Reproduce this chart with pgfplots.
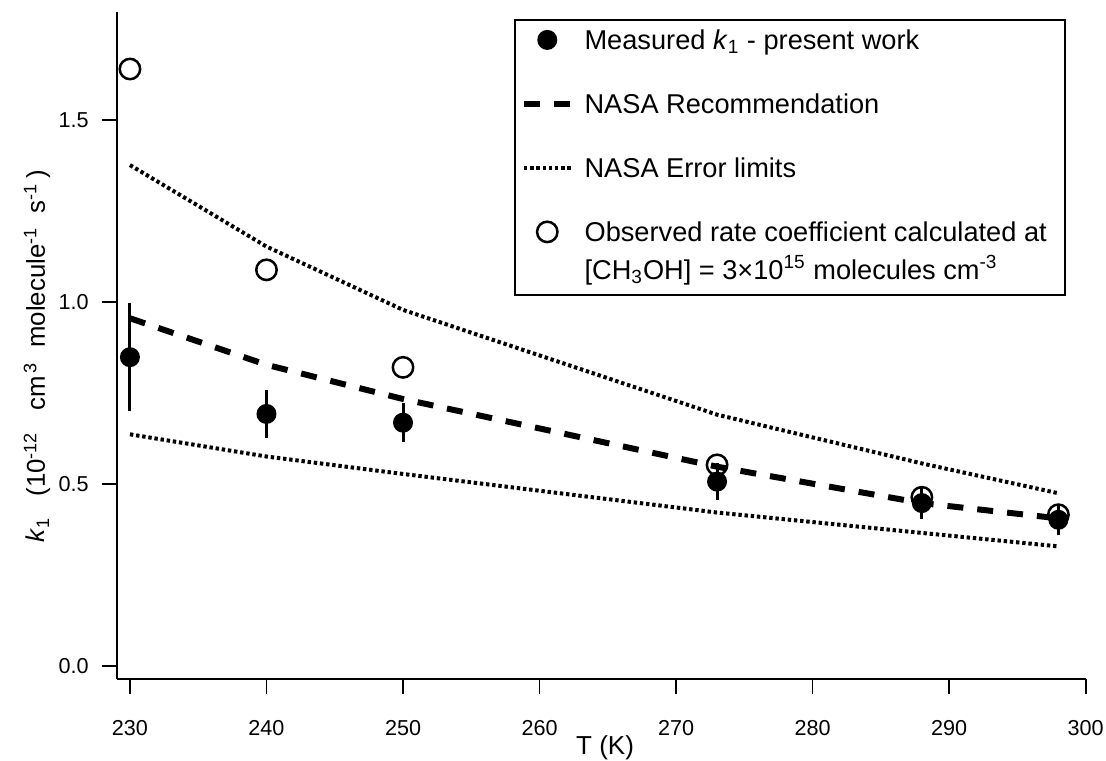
\documentclass[border=0pt]{standalone}
\usepackage{fontspec}
\setmainfont{Liberation Sans}
\usepackage{pgfplots}
\usepackage{pgfplotstable}
\pgfplotsset{compat=1.18}

% measured k1 with 1-sigma error (10^-12 cm3 molecule-1 s-1)
\pgfplotstableread{
T    k      err
230  0.848  0.148
240  0.692  0.065
250  0.668  0.053
273  0.506  0.050
288  0.447  0.044
298  0.401  0.041
}\measured

% observed rate coefficient at [CH3OH] = 3e15 molecules cm-3
\pgfplotstableread{
T    k
230  1.640
240  1.088
250  0.820
273  0.552
288  0.463
298  0.415
}\observed

% NASA recommendation and error limits
\pgfplotstableread{
T    rec    upper  lower
230  0.955  1.376  0.636
240  0.827  1.152  0.575
250  0.733  0.978  0.527
273  0.547  0.690  0.421
288  0.447  0.556  0.365
298  0.405  0.474  0.328
}\nasa

% fixed row height for legend entries: 13pt above, 5pt below the baseline
\newcommand{\lstrut}{\rule[-5pt]{0pt}{18pt}}

\begin{document}
\begin{tikzpicture}
\begin{axis}[
  name=ax,
  scale only axis,
  width=484.5pt, height=333.5pt,
  xmin=229.03, xmax=300,
  ymin=-0.0357, ymax=1.7975,
  axis x line*=bottom, axis y line*=left,
  axis line style={line width=0.8pt, black},
  xtick={230,240,...,300},
  ytick={0,0.5,1,1.5},
  tick align=outside,
  major tick length=7.5pt,
  tick style={line width=0.8pt, black},
  /pgf/number format/assume math mode=true,
  ticklabel style={font=\fontsize{10.8}{12}\selectfont},
  yticklabel style={xshift=-3pt, /pgf/number format/.cd, fixed, fixed zerofill, precision=1},
  xticklabel style={yshift=-10pt, /pgf/number format/.cd, 1000 sep={}},
  xlabel={T (K)},
  ylabel={\textit{k}\textsubscript{1}\ \ \ (10\textsuperscript{-12}\ \ \ cm\textsuperscript{\,3}\ \ molecule\textsuperscript{-1}\ \ s\textsuperscript{-1}\,)},
  every axis x label/.style={at={(rel axis cs:0.504,-0.1142)}, anchor=base, font=\fontsize{13}{15}\selectfont},
  every axis y label/.style={at={(rel axis cs:-0.074,0.483)}, rotate=90, anchor=base, font=\fontsize{12.9}{14}\selectfont},
  legend style={
    at={(rel axis cs:0.9792,0.9886)}, anchor=north east,
    draw=black, line width=0.8pt,
    font=\fontsize{13.6}{16}\selectfont,
    inner xsep=3pt, inner ysep=1.5pt,
    row sep=14pt, column sep=5.5pt,
    nodes={inner sep=0pt, text depth=},
    cells={anchor=base west},
  },
  % legend symbols sit at mid cap height of the entry's first line
  legend image code/.code={
    \draw[mark repeat=2, mark phase=2, #1]
      plot coordinates {(0pt,4.6pt) (11.65pt,4.6pt) (23.3pt,4.6pt)};
  },
]

% measured values with error bars
\addplot[only marks, mark=*, mark size=4.6pt, line width=0.8pt, black,
  error bars/.cd, y dir=both, y explicit,
  error bar style={line width=1.5pt, black}, error mark=none]
  table[x=T, y=k, y error=err] {\measured};
\addlegendentry{\lstrut Measured \textit{k}\textsubscript{1} - present work}

% NASA recommendation
\addplot[black, line width=3pt, dash pattern=on 8pt off 7pt]
  table[x=T, y=rec] {\nasa};
\addlegendentry{\lstrut NASA Recommendation}

% NASA error limits
\addplot[black, line width=2pt, dash pattern=on 1.7pt off 1.4pt]
  table[x=T, y=upper] {\nasa};
\addlegendentry{\lstrut NASA Error limits}
\addplot[black, line width=2pt, dash pattern=on 1.7pt off 1.4pt, forget plot]
  table[x=T, y=lower] {\nasa};

% observed rate coefficients
\addplot[only marks, mark=o, mark size=5.1pt, line width=1.25pt, black]
  table[x=T, y=k] {\observed};
\addlegendentry{\begin{tabular}[t]{@{}l@{\hspace{6pt}}}\lstrut Observed rate coefficient calculated at\\
  \rule[-6.3pt]{0pt}{20.3pt}[CH\textsubscript{3}OH] = 3×10\textsuperscript{15} molecules cm\textsuperscript{-3}\end{tabular}}

\end{axis}
\pgfresetboundingbox
\path ([xshift=-58.35pt,yshift=-41.1pt]ax.south west) rectangle ([xshift=10.15pt,yshift=5.85pt]ax.north east);
\end{tikzpicture}
\end{document}
